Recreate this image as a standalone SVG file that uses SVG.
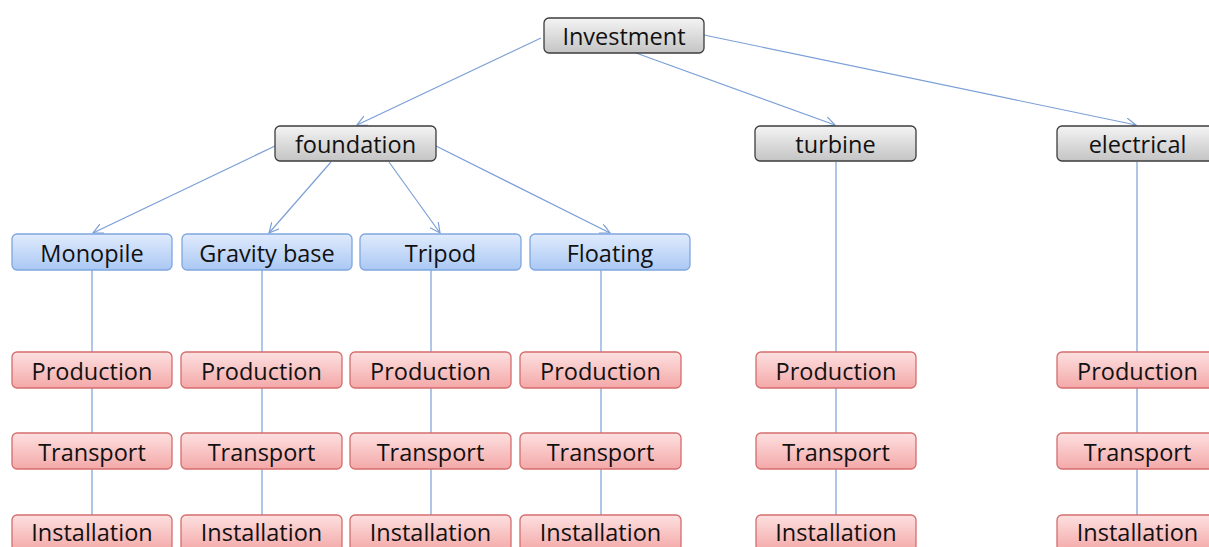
<svg xmlns="http://www.w3.org/2000/svg" width="1209" height="547" viewBox="0 0 1209 547">
<defs>
<linearGradient id="gGray" x1="0" y1="0" x2="0" y2="1"><stop offset="0" stop-color="#f4f4f4"/><stop offset="1" stop-color="#c4c4c4"/></linearGradient>
<linearGradient id="gBlue" x1="0" y1="0" x2="0" y2="1"><stop offset="0" stop-color="#e0ebfc"/><stop offset="1" stop-color="#aac8f4"/></linearGradient>
<linearGradient id="gRed" x1="0" y1="0" x2="0" y2="1"><stop offset="0" stop-color="#fde0e0"/><stop offset="1" stop-color="#f4a8a8"/></linearGradient>
<marker id="arr" markerWidth="12" markerHeight="12" refX="10" refY="5" orient="auto" markerUnits="userSpaceOnUse"><path d="M0,0 L10,5 L0,10" fill="none" stroke="#7b9fd6" stroke-width="1.2"/></marker>
</defs>
<style>
.gray rect{fill:url(#gGray);stroke:#3c3c3c;stroke-width:1.3}
.blue rect{fill:url(#gBlue);stroke:#80a6df;stroke-width:1.3}
.red rect{fill:url(#gRed);stroke:#d56d6d;stroke-width:1.3}
text{font-family:"Open Sans","Liberation Sans",sans-serif;font-size:23.5px;fill:#111111;text-anchor:middle}
#connectors line{stroke:#7b9fd6;stroke-width:1.2;fill:none}
#connectors line.a{marker-end:url(#arr)}
</style>
<rect width="1209" height="547" fill="#ffffff"/>
<g id="connectors">
<line class="a" x1="541" y1="38" x2="357" y2="125"/>
<line class="a" x1="636" y1="53" x2="835" y2="125"/>
<line class="a" x1="704" y1="35" x2="1136" y2="125"/>
<line class="a" x1="275" y1="146" x2="93" y2="233"/>
<line class="a" x1="331" y1="162" x2="269" y2="233"/>
<line class="a" x1="389" y1="162" x2="440" y2="233"/>
<line class="a" x1="436" y1="146" x2="610" y2="233"/>
<line x1="92" y1="270" x2="92" y2="547"/>
<line x1="262" y1="270" x2="262" y2="547"/>
<line x1="431" y1="270" x2="431" y2="547"/>
<line x1="601" y1="270" x2="601" y2="547"/>
<line x1="836" y1="162" x2="836" y2="547"/>
<line x1="1137" y1="162" x2="1137" y2="547"/>
</g>
<g id="n-investment" class="gray"><rect x="544" y="18" width="160" height="35" rx="5"/><text x="624" y="44.5">Investment</text></g>
<g id="n-foundation" class="gray"><rect x="275" y="126" width="161" height="35" rx="5"/><text x="355.5" y="152.5">foundation</text></g>
<g id="n-turbine" class="gray"><rect x="755" y="126" width="161" height="35" rx="5"/><text x="835.5" y="152.5">turbine</text></g>
<g id="n-electrical" class="gray"><rect x="1057" y="126" width="161" height="35" rx="5"/><text x="1137.5" y="152.5">electrical</text></g>
<g id="n-monopile" class="blue"><rect x="12" y="234" width="160" height="36" rx="5"/><text x="92" y="261.5">Monopile</text></g>
<g id="n-gravity" class="blue"><rect x="182" y="234" width="170" height="36" rx="5"/><text x="267" y="261.5">Gravity base</text></g>
<g id="n-tripod" class="blue"><rect x="360" y="234" width="161" height="36" rx="5"/><text x="440.5" y="261.5">Tripod</text></g>
<g id="n-floating" class="blue"><rect x="530" y="234" width="160" height="36" rx="5"/><text x="610" y="261.5">Floating</text></g>
<g id="n-prod1" class="red"><rect x="12" y="352" width="160" height="36" rx="5"/><text x="92" y="379.5">Production</text></g>
<g id="n-trans1" class="red"><rect x="12" y="433" width="160" height="36" rx="5"/><text x="92" y="460.5">Transport</text></g>
<g id="n-inst1" class="red"><rect x="12" y="515" width="160" height="36" rx="5"/><text x="92" y="540.5">Installation</text></g>
<g id="n-prod2" class="red"><rect x="181" y="352" width="161" height="36" rx="5"/><text x="261.5" y="379.5">Production</text></g>
<g id="n-trans2" class="red"><rect x="181" y="433" width="161" height="36" rx="5"/><text x="261.5" y="460.5">Transport</text></g>
<g id="n-inst2" class="red"><rect x="181" y="515" width="161" height="36" rx="5"/><text x="261.5" y="540.5">Installation</text></g>
<g id="n-prod3" class="red"><rect x="350" y="352" width="161" height="36" rx="5"/><text x="430.5" y="379.5">Production</text></g>
<g id="n-trans3" class="red"><rect x="350" y="433" width="161" height="36" rx="5"/><text x="430.5" y="460.5">Transport</text></g>
<g id="n-inst3" class="red"><rect x="350" y="515" width="161" height="36" rx="5"/><text x="430.5" y="540.5">Installation</text></g>
<g id="n-prod4" class="red"><rect x="520" y="352" width="161" height="36" rx="5"/><text x="600.5" y="379.5">Production</text></g>
<g id="n-trans4" class="red"><rect x="520" y="433" width="161" height="36" rx="5"/><text x="600.5" y="460.5">Transport</text></g>
<g id="n-inst4" class="red"><rect x="520" y="515" width="161" height="36" rx="5"/><text x="600.5" y="540.5">Installation</text></g>
<g id="n-prod5" class="red"><rect x="756" y="352" width="160" height="36" rx="5"/><text x="836" y="379.5">Production</text></g>
<g id="n-trans5" class="red"><rect x="756" y="433" width="160" height="36" rx="5"/><text x="836" y="460.5">Transport</text></g>
<g id="n-inst5" class="red"><rect x="756" y="515" width="160" height="36" rx="5"/><text x="836" y="540.5">Installation</text></g>
<g id="n-prod6" class="red"><rect x="1057" y="352" width="161" height="36" rx="5"/><text x="1137.5" y="379.5">Production</text></g>
<g id="n-trans6" class="red"><rect x="1057" y="433" width="161" height="36" rx="5"/><text x="1137.5" y="460.5">Transport</text></g>
<g id="n-inst6" class="red"><rect x="1057" y="515" width="161" height="36" rx="5"/><text x="1137.5" y="540.5">Installation</text></g>
</svg>
